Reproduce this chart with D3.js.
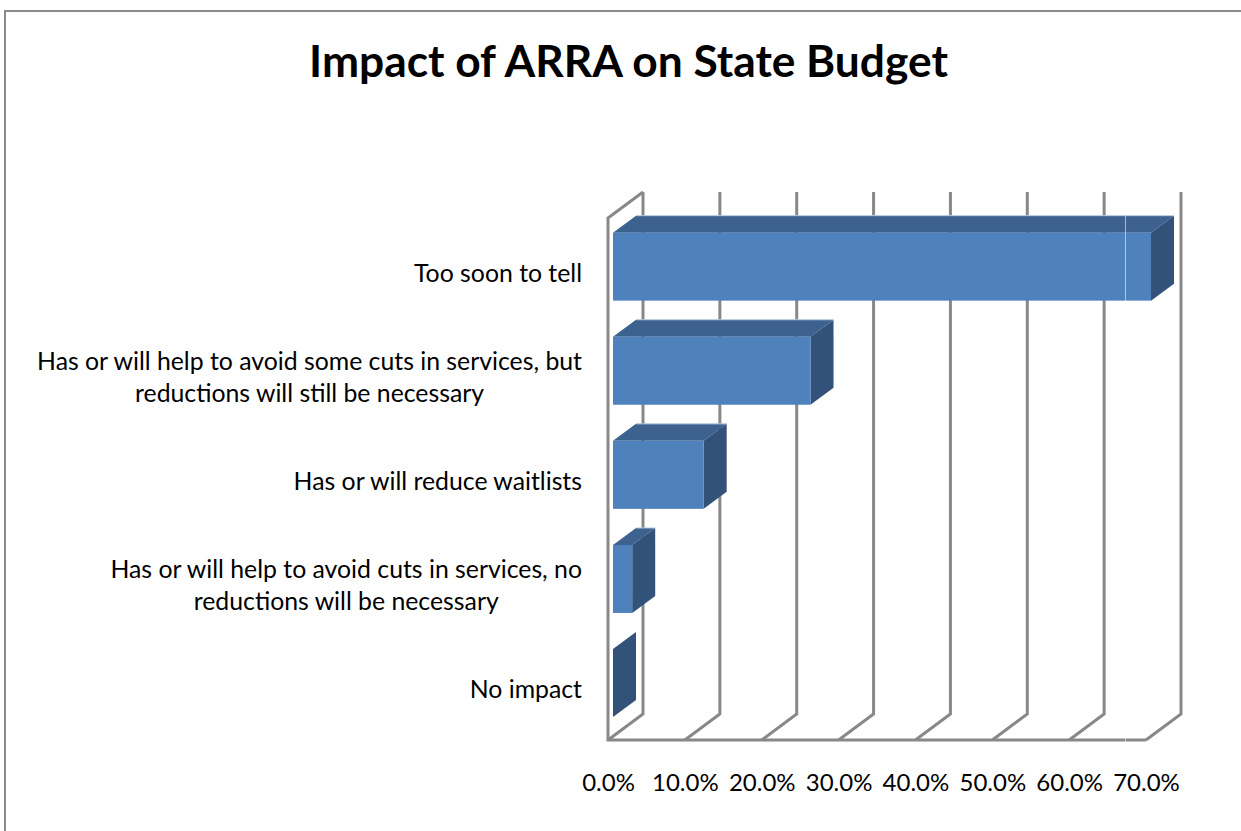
<!DOCTYPE html>
<html>
<head>
<meta charset="utf-8">
<script src="https://cdn.jsdelivr.net/npm/d3@7/dist/d3.min.js"></script>
<style>
  html, body { margin: 0; padding: 0; background: #fff; }
  svg { display: block; }
  text { font-family: Lato, "Open Sans", sans-serif; fill: #000; }
</style>
</head>
<body>
<div id="chart"></div>
<script>
// Survey responses, top to bottom
const categories = [
  "Too soon to tell",
  "Has or will help to avoid some cuts in services, but reductions will still be necessary",
  "Has or will reduce waitlists",
  "Has or will help to avoid cuts in services, no reductions will be necessary",
  "No impact"
];
const categoryLines = [
  ["Too soon to tell"],
  ["Has or will help to avoid some cuts in services, but", "reductions will still be necessary"],
  ["Has or will reduce waitlists"],
  ["Has or will help to avoid cuts in services, no", "reductions will be necessary"],
  ["No impact"]
];
const shares = [70.0, 25.7, 11.8, 2.5, 0.0];
const chartTitle = "Impact of ARRA on State Budget";

const width = 1241, height = 831;
const svg = d3.select("#chart").append("svg").attr("width", width).attr("height", height);

// Outer frame: only top and left edges fall inside the page
svg.append("path")
  .attr("d", `M5,${height}V11H${width}`)
  .attr("fill", "none").attr("stroke", "#8a8a8a").attr("stroke-width", 2);

svg.append("text")
  .attr("x", 628.5).attr("y", 77)
  .attr("text-anchor", "middle")
  .attr("font-size", 44.3).attr("font-weight", 700)
  .text(chartTitle);

// Front plane of the plot box and the oblique depth of the 3-D projection
const floorY = 740, wallTopY = 218, wallX = 608;
const boxDepth = { x: 35, y: 26 };
const barInset = 5;
const barDepth = { x: 23, y: 17 };

const x = d3.scaleLinear().domain([0, 70]).range([wallX, 1146]);
const y = d3.scaleBand().domain(categories).range([214.6, 735.1])
  .paddingInner(0.347).paddingOuter(0.1735);

// Walls and floor
const grid = svg.append("g").attr("fill", "none").attr("stroke", "#888888").attr("stroke-width", 3);
const tickValues = x.ticks(7);
grid.selectAll("path.tick-line").data(tickValues).join("path")
  .attr("class", "tick-line")
  .attr("d", v => `M${x(v)},${floorY}L${x(v) + boxDepth.x},${floorY - boxDepth.y}V${wallTopY - boxDepth.y}`);
grid.append("path")
  .attr("d", `M${x(0) + boxDepth.x},${wallTopY - boxDepth.y}L${x(0)},${wallTopY}V${floorY}H${x(70)}`);

// Bars: front, top and side faces
const barFront = "#4f81bd", barTop = "#3d6290", barSide = "#325279", barEdge = "#b7cbe3";
const bars = svg.append("g").selectAll("g").data(categories.map((c, i) => ({ c, v: shares[i] }))).join("g");
const left = barInset;

bars.filter(d => d.v > 0).append("polygon")
  .attr("fill", barTop)
  .attr("points", d => {
    const t = y(d.c), r = x(d.v) + left;
    return [[x(0) + left, t], [x(0) + left + barDepth.x, t - barDepth.y], [r + barDepth.x, t - barDepth.y], [r, t]].join(" ");
  });
bars.append("polygon")
  .attr("fill", barSide)
  .attr("points", d => {
    const t = y(d.c), b = t + y.bandwidth(), r = x(d.v) + left;
    return [[r, t], [r + barDepth.x, t - barDepth.y], [r + barDepth.x, b - barDepth.y], [r, b]].join(" ");
  });
bars.filter(d => d.v > 0).append("rect")
  .attr("fill", barFront)
  .attr("x", x(0) + left)
  .attr("y", d => y(d.c))
  .attr("width", d => x(d.v) - x(0))
  .attr("height", y.bandwidth());
bars.filter(d => d.v > 0).append("path")
  .attr("fill", "none").attr("stroke", barEdge).attr("stroke-width", 1)
  .attr("d", d => {
    const t = y(d.c) - barDepth.y, r = x(d.v) + left;
    return `M${x(0) + left + barDepth.x},${t}H${r + barDepth.x}`;
  });

// Category labels
const labelRight = 582, lineHeight = 32;
const labels = svg.append("g").attr("font-size", 24.8);
categoryLines.forEach((lines, i) => {
  const cy = y(categories[i]) + y.bandwidth() / 2 + 6.5;
  const g = labels.append("g");
  const nodes = lines.map((line, k) => g.append("text")
    .attr("y", cy + (k - (lines.length - 1) / 2) * lineHeight + 8.5)
    .text(line));
  const widest = d3.max(nodes, n => n.node().getComputedTextLength());
  nodes.forEach(n => n.attr("text-anchor", "middle").attr("x", labelRight - widest / 2));
});

// Value axis along the front of the floor
const axis = d3.axisBottom(x).tickValues(tickValues).tickSize(0).tickPadding(34)
  .tickFormat(v => v.toFixed(1) + "%");
const axisG = svg.append("g").attr("transform", `translate(0,${floorY})`).call(axis);
axisG.select(".domain").remove();
axisG.selectAll("text").attr("font-size", 24).style("font-family", "Lato, 'Open Sans', sans-serif").attr("fill", "#000");

// Pale seam crossing the longest bar and the floor
svg.append("line")
  .attr("x1", 1125.5).attr("x2", 1125.5).attr("y1", 216).attr("y2", 742)
  .attr("stroke", "#ffffff").attr("stroke-opacity", 0.55).attr("stroke-width", 1);
</script>
</body>
</html>
